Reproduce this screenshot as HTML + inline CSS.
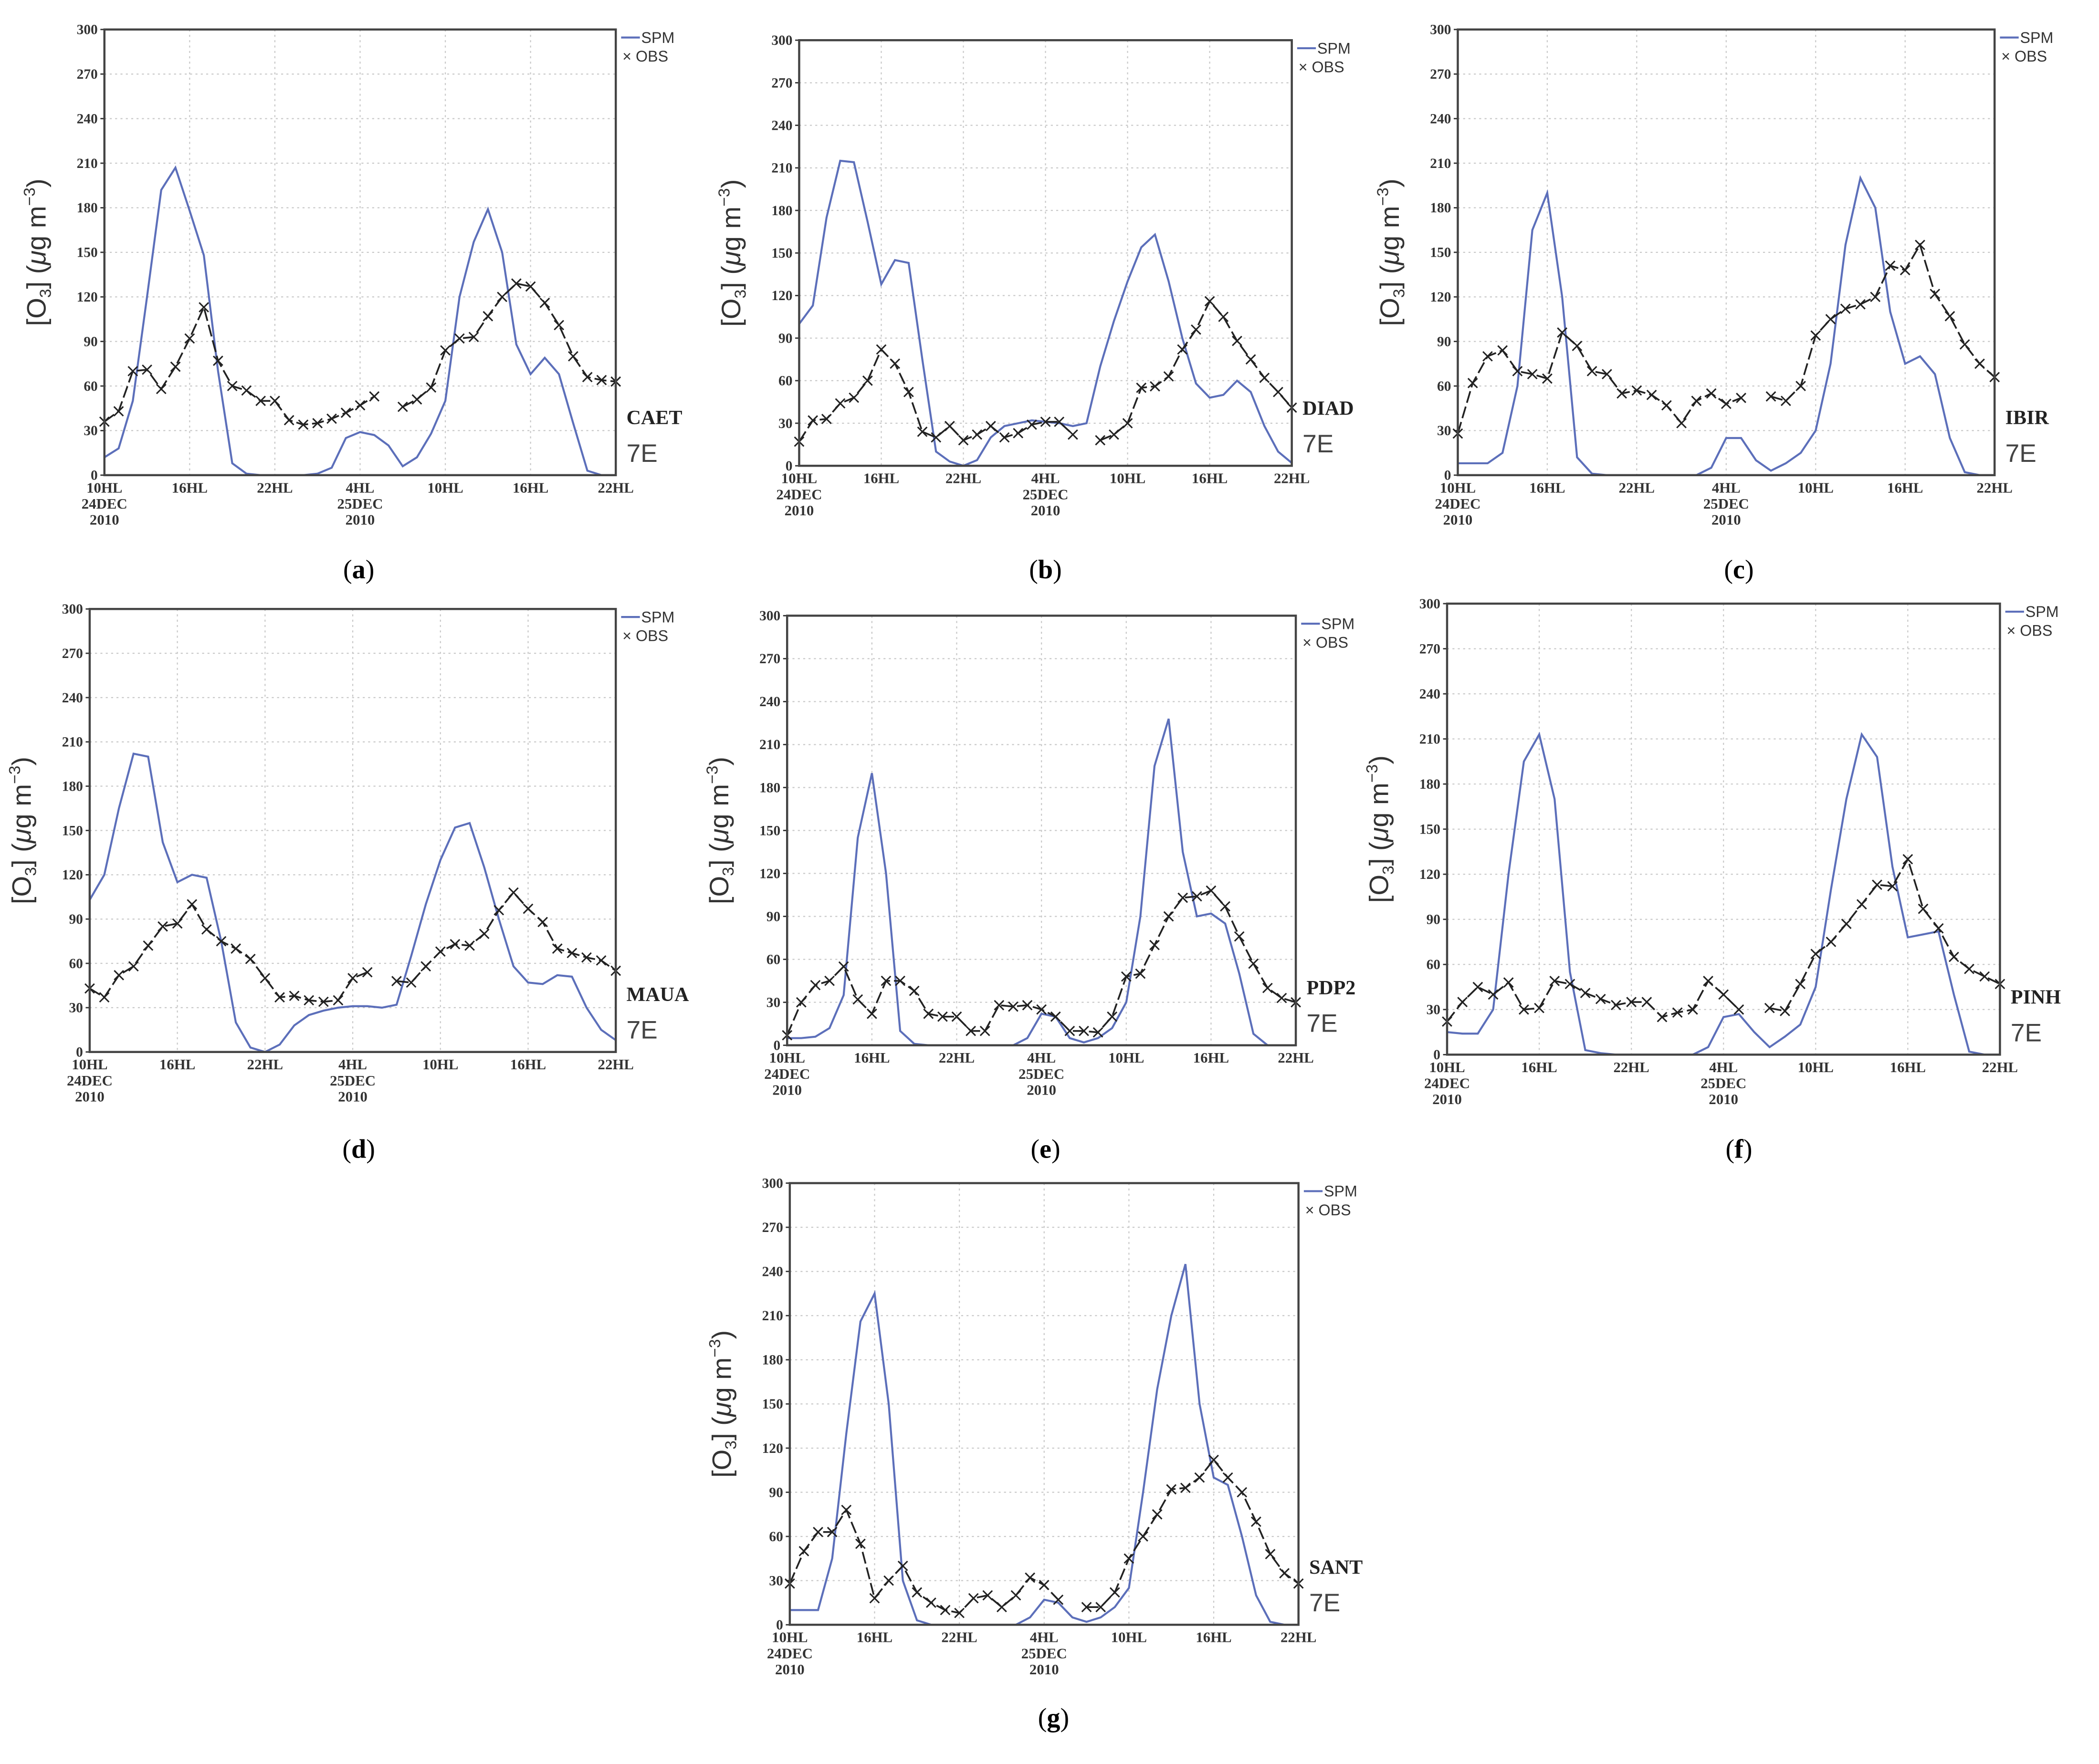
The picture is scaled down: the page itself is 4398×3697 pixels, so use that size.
<!DOCTYPE html>
<html><head><meta charset="utf-8"><style>
html,body{margin:0;padding:0;background:#fff}
svg{display:block}
</style></head><body>
<svg id="fig" width="4398" height="3697" viewBox="0 0 1568 1318" xmlns="http://www.w3.org/2000/svg"></svg>
<script>
const hours = [0,1,2,3,4,5,6,7,8,9,10,11,12,13,14,15,16,17,18,19,20,21,22,23,24,25,26,27,28,29,30,31,32,33,34,35,36];
const yTicks = [0,30,60,90,120,150,180,210,240,270,300];
const xTickHours = [0,6,12,18,24,30,36];
const xTickLabels = [["10HL","24DEC","2010"],["16HL"],["22HL"],["4HL","25DEC","2010"],["10HL"],["16HL"],["22HL"]];
const stations = ["CAET","DIAD","IBIR","MAUA","PDP2","PINH","SANT"];
const captions = ["a","b","c","d","e","f","g"];
const spmA = [12,18,50,120,192,207,178,148,70,8,1,0,0,0,0,1,5,25,29,27,20,6,12,28,50,120,157,179,150,88,68,79,68,35,3,0,0];
const obsA = [36,43,70,71,58,73,92,113,77,60,57,50,50,37,34,35,38,42,47,53,null,46,51,59,84,92,93,107,120,129,127,116,101,80,66,64,63];
const spmB = [100,113,175,215,214,172,128,145,143,75,10,3,0,4,20,28,30,32,31,30,28,30,70,102,130,154,163,130,90,58,48,50,60,52,28,10,2];
const obsB = [17,32,33,44,48,60,82,72,52,24,20,28,18,22,28,20,23,29,31,31,22,null,18,22,30,55,56,63,82,96,116,105,88,75,62,52,41];
const spmC = [8,8,8,15,60,165,190,120,12,1,0,0,0,0,0,0,0,5,25,25,10,3,8,15,30,75,155,200,180,110,75,80,68,25,2,0,0];
const obsC = [28,62,80,84,70,68,65,96,87,70,68,55,57,54,47,35,50,55,48,52,null,53,50,60,94,105,112,115,120,141,138,155,122,107,88,75,66];
const spmD = [103,120,165,202,200,142,115,120,118,75,20,3,0,5,18,25,28,30,31,31,30,32,65,100,130,152,155,125,90,58,47,46,52,51,30,15,8];
const obsD = [43,37,52,58,72,85,87,100,83,75,70,63,50,37,38,35,34,35,50,54,null,48,47,58,68,73,72,80,96,108,97,88,70,67,64,62,55];
const spmE = [5,5,6,12,35,145,190,120,10,1,0,0,0,0,0,0,0,5,22,20,5,2,5,12,30,90,195,228,135,90,92,85,50,8,0,0,0];
const obsE = [7,30,42,45,55,32,22,45,45,38,22,20,20,10,10,28,27,28,25,20,10,10,9,20,48,50,70,90,103,104,108,97,76,57,40,33,30];
const spmF = [15,14,14,30,120,195,213,170,55,3,1,0,0,0,0,0,0,5,25,27,15,5,12,20,45,110,170,213,198,125,78,80,82,40,2,0,0];
const obsF = [22,35,45,40,48,30,31,49,47,41,37,33,35,35,25,28,30,49,40,30,null,31,29,47,67,75,87,100,113,112,130,97,84,65,57,52,47];
const spmG = [10,10,10,45,130,206,225,150,30,3,0,0,0,0,0,0,0,5,17,15,5,2,5,12,25,90,160,210,245,150,100,95,60,20,2,0,0];
const obsG = [28,50,63,63,78,55,18,30,40,22,15,10,8,18,20,12,20,32,27,17,null,12,12,22,45,60,75,92,93,100,112,100,90,70,48,35,28];
const spmSeries = [spmA,spmB,spmC,spmD,spmE,spmF,spmG];
const obsSeries = [obsA,obsB,obsC,obsD,obsE,obsF,obsG];

const frames = [[78,22,460,355],[597,30,965,348],[1089,22,1490,355],[67,455,460,786],[588,460,968,781],[1081,451,1494,788],[590,884,970,1214]];
const capPos = [[268,432],[781,432],[1299,432],[268,865],[781,865],[1299,865],[787,1290]];
const NS="http://www.w3.org/2000/svg";
const svg=document.getElementById('fig');
function mk(tag,attrs,parent){const e=document.createElementNS(NS,tag);for(const k in attrs)e.setAttribute(k,attrs[k]);(parent||svg).appendChild(e);return e;}

frames.forEach((f,i)=>{
  const [x0,y0,x1,y1]=f;
  const g=mk('g',{});
  
  
  const xs=h=>x0+(x1-x0)*h/36;
  const ys=v=>y1-(y1-y0)*v/300;
  yTicks.forEach(t=>{
    if(t>0&&t<300){const l=mk('line',{x1:x0,x2:x1,y1:ys(t),y2:ys(t),stroke:'#c8c8c8','stroke-width':0.8,'stroke-dasharray':'1.5 2.5'},g);
    }
    const tk=mk('line',{x1:x0-3,x2:x0,y1:ys(t),y2:ys(t),stroke:'#333','stroke-width':1},g);
    
    const tx=mk('text',{x:x0-5,y:ys(t)+3.5,'text-anchor':'end','font-family':'Liberation Serif, serif','font-weight':'bold','font-size':10.5,fill:'#333'},g);
    tx.textContent=t;
    
  });
  xTickHours.forEach((h,j)=>{
    if(h>0&&h<36){const l=mk('line',{x1:xs(h),x2:xs(h),y1:y0,y2:y1,stroke:'#c8c8c8','stroke-width':0.8,'stroke-dasharray':'1.5 2.5'},g);
    }
    xTickLabels[j].forEach((s,k)=>{
      const tx=mk('text',{x:xs(h),y:y1+13+k*12,'text-anchor':'middle','font-family':'Liberation Serif, serif','font-weight':'bold','font-size':11,fill:'#333'},g);
      tx.textContent=s;
      
    });
  });
  const sp=spmSeries[i];
  const p=mk('polyline',{points:hours.map(h=>xs(h)+','+ys(sp[h])).join(' '),fill:'none',stroke:'#5c6fba','stroke-width':1.5},g);
  
  const ob=obsSeries[i];
  let seg=[];
  const flush=()=>{if(seg.length>1){const l=mk('polyline',{points:seg.join(' '),fill:'none',stroke:'#222','stroke-width':1.3,'stroke-dasharray':'9 3'},g);
    }seg=[];};
  hours.forEach(h=>{const v=ob[h];if(v==null){flush();return;}seg.push(xs(h)+','+ys(v));});
  flush();
  hours.forEach(h=>{const v=ob[h];if(v==null)return;const cx=xs(h),cy=ys(v),r=3.5;
    const c=mk('path',{d:`M${cx-r},${cy-r}L${cx+r},${cy+r}M${cx-r},${cy+r}L${cx+r},${cy-r}`,stroke:'#222','stroke-width':1.1,fill:'none'},g);
    });
  const fr=mk('rect',{x:x0,y:y0,width:x1-x0,height:y1-y0,fill:'none',stroke:'#444','stroke-width':1.6},g);
  
  const cy=(y0+y1)/2;
  const tx0=x0-44;
  const yt=mk('text',{x:tx0,y:cy,transform:`rotate(-90 ${tx0} ${cy})`,'text-anchor':'middle','font-family':'Liberation Sans, sans-serif','font-size':20,fill:'#333'},g);
  yt.innerHTML='[O<tspan font-size="12" dy="4">3</tspan><tspan dy="-4">]  (</tspan><tspan font-style="italic">μ</tspan>g  m<tspan font-size="12" dy="-8">−3</tspan><tspan dy="8">)</tspan>';
  
  const lg=mk('g',{},g);
  
  mk('line',{x1:x1+4,x2:x1+18,y1:y0+6,y2:y0+6,stroke:'#5c6fba','stroke-width':1.5},lg);
  const t1=mk('text',{x:x1+19,y:y0+10,'font-family':'Liberation Sans, sans-serif','font-size':11.5,fill:'#333'},lg);t1.textContent='SPM';
  
  const t2=mk('text',{x:x1+5,y:y0+24,'font-family':'Liberation Sans, sans-serif','font-size':11.5,fill:'#333'},lg);t2.textContent='× OBS';
  
  const st=mk('text',{x:x1+8,y:y1-38,'font-family':'Liberation Serif, serif','font-weight':'bold','font-size':15,fill:'#222'},g);st.textContent=stations[i];
  
  const se=mk('text',{x:x1+8,y:y1-10,'font-family':'Liberation Sans, sans-serif','font-size':19,fill:'#444'},g);se.textContent='7E';
  
  const cp=mk('text',{x:capPos[i][0],y:capPos[i][1],'text-anchor':'middle','font-family':'Liberation Serif, serif','font-size':20,fill:'#000'});
  cp.innerHTML='(<tspan font-weight="bold">'+captions[i]+'</tspan>)';
  
});
</script>
</body></html>
